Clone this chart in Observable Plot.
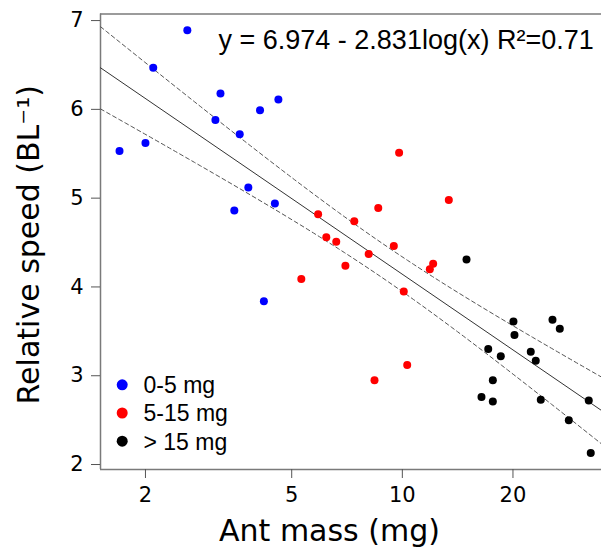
<!DOCTYPE html>
<html><head><meta charset="utf-8">
<script src="https://cdn.jsdelivr.net/npm/d3@7"></script>
<script src="https://cdn.jsdelivr.net/npm/@observablehq/plot@0.6"></script>
<style>body{margin:0;background:#fff} #chart svg{display:block}</style>
</head><body><div id="chart"></div>
<script>
const groups = ["0-5 mg", "5-15 mg", "> 15 mg"];
const groupColors = ["#0000ff", "#ff0000", "#000000"];

const massSmall  = [2.60, 2.10, 1.70, 2.00, 3.20, 4.10, 4.60, 3.10, 3.61, 3.81, 4.50, 3.49, 4.20];
const speedSmall = [6.89, 6.47, 5.53, 5.62, 6.18, 5.99, 6.11, 5.88, 5.72, 5.12, 4.94, 4.86, 3.84];
const massMid    = [5.90, 6.21, 6.61, 5.31, 7.00, 9.80, 13.38, 8.60, 7.40, 9.48, 8.10, 12.13, 11.88, 10.09, 10.31, 8.40];
const speedMid   = [4.82, 4.56, 4.51, 4.09, 4.24, 5.51, 4.98, 4.89, 4.74, 4.46, 4.37, 4.26, 4.20, 3.95, 3.12, 2.95];
const massLarge  = [14.95, 20.06, 20.19, 25.62, 26.82, 17.13, 18.53, 22.36, 23.07, 17.63, 16.42, 17.63, 23.81, 32.16, 28.38, 32.56];
const speedLarge = [4.31, 3.61, 3.46, 3.63, 3.53, 3.30, 3.22, 3.27, 3.17, 2.95, 2.76, 2.71, 2.73, 2.72, 2.50, 2.13];

const fitIntercept = 6.974;
const fitSlope = -2.831;
const fitR2 = "0.71";
const xTicks = [2, 5, 10, 20];
const yTicks = [2, 3, 4, 5, 6, 7];
const xDomain = [1.509, 34.83];
const yDomain = [1.944, 7.074];

const points = [
  ...massSmall.map((m, i) => ({mass: m, speed: speedSmall[i], group: groups[0]})),
  ...massMid.map((m, i) => ({mass: m, speed: speedMid[i], group: groups[1]})),
  ...massLarge.map((m, i) => ({mass: m, speed: speedLarge[i], group: groups[2]}))
];

// fitted line (from stated equation) and 95% confidence band computed from the data
const predict = lx => fitIntercept + fitSlope * lx;
const n = points.length;
const lxs = points.map(d => Math.log10(d.mass));
const meanLx = d3.mean(lxs);
const sxx = d3.sum(lxs, v => (v - meanLx) ** 2);
const ssr = d3.sum(points, (d, i) => (d.speed - predict(lxs[i])) ** 2);
const s = Math.sqrt(ssr / (n - 2));
const tCrit = 2.017;
const lo = Math.log10(xDomain[0]), hi = Math.log10(xDomain[1]);
const grid = d3.range(0, 81).map(k => lo + (hi - lo) * k / 80);
const fitLine = [lo, hi].map(lx => ({mass: 10 ** lx, speed: predict(lx)}));
const bandUpper = grid.map(lx => ({mass: 10 ** lx, speed: predict(lx) + tCrit * s * Math.sqrt(1 / n + (lx - meanLx) ** 2 / sxx)}));
const bandLower = grid.map(lx => ({mass: 10 ** lx, speed: predict(lx) - tCrit * s * Math.sqrt(1 / n + (lx - meanLx) ** 2 / sxx)}));

const equation = `y = ${fitIntercept} - ${Math.abs(fitSlope)}log(x) R²=${fitR2}`;

const legendMarks = groups.flatMap((g, i) => [
  Plot.dot([g], {frameAnchor: "bottom-left", dx: 21.7, dy: -84.7 + 28.2 * i, r: 5.5, fill: groupColors[i]}),
  Plot.text([g], {frameAnchor: "bottom-left", text: d => d, dx: 43, dy: -83.7 + 28.2 * i,
    textAnchor: "start", lineAnchor: "middle", fontFamily: "Liberation Sans", fontSize: 23, fill: "#000"})
]);

const chart = Plot.plot({
  width: 601, height: 547,
  marginLeft: 100, marginRight: 0, marginTop: 13.5, marginBottom: 78,
  style: {fontFamily: "DejaVu Sans", fontSize: "21px", color: "#000", background: "#fff"},
  x: {type: "log", domain: xDomain},
  y: {domain: yDomain},
  color: {domain: groups, range: groupColors},
  marks: [
    Plot.ruleY([yDomain[1]], {stroke: "#7a7a7a", strokeWidth: 1.5}),
    Plot.ruleY([yDomain[0]], {stroke: "#7a7a7a", strokeWidth: 1.5}),
    Plot.ruleX([xDomain[0]], {stroke: "#7a7a7a", strokeWidth: 1.5}),
    Plot.axisX({ticks: xTicks, tickFormat: d => String(d), tickSize: 9, tickPadding: 9, stroke: "#555", fill: "#000", fontSize: 21, label: null}),
    Plot.axisY({ticks: yTicks, tickFormat: d => String(d), tickSize: 9, tickPadding: 8, stroke: "#555", fill: "#000", fontSize: 21, label: null}),
    Plot.line(bandUpper, {x: "mass", y: "speed", stroke: "#555", strokeWidth: 1, strokeDasharray: "4,3"}),
    Plot.line(bandLower, {x: "mass", y: "speed", stroke: "#555", strokeWidth: 1, strokeDasharray: "4,3"}),
    Plot.line(fitLine, {x: "mass", y: "speed", stroke: "#333", strokeWidth: 1}),
    Plot.dot(points, {x: "mass", y: "speed", fill: "group", r: 4}),
    Plot.text([equation], {frameAnchor: "top-left", text: d => d, dx: 118, dy: 25.9, textAnchor: "start",
      lineAnchor: "middle", fontFamily: "Liberation Sans", fontSize: 27, fill: "#000"}),
    Plot.text(["Ant mass (mg)"], {frameAnchor: "bottom", text: d => d, dx: -21.5, dy: 61.4,
      textAnchor: "middle", lineAnchor: "middle", fontFamily: "DejaVu Sans", fontSize: 30, fill: "#000"}),
    Plot.text(["Relative speed (BL⁻¹)"], {frameAnchor: "left", text: d => d, dx: -71.6, dy: 3,
      rotate: -90, textAnchor: "middle", lineAnchor: "middle", fontFamily: "DejaVu Sans", fontSize: 30, fill: "#000"}),
    ...legendMarks
  ]
});
document.getElementById("chart").append(chart);
</script>
</body></html>
